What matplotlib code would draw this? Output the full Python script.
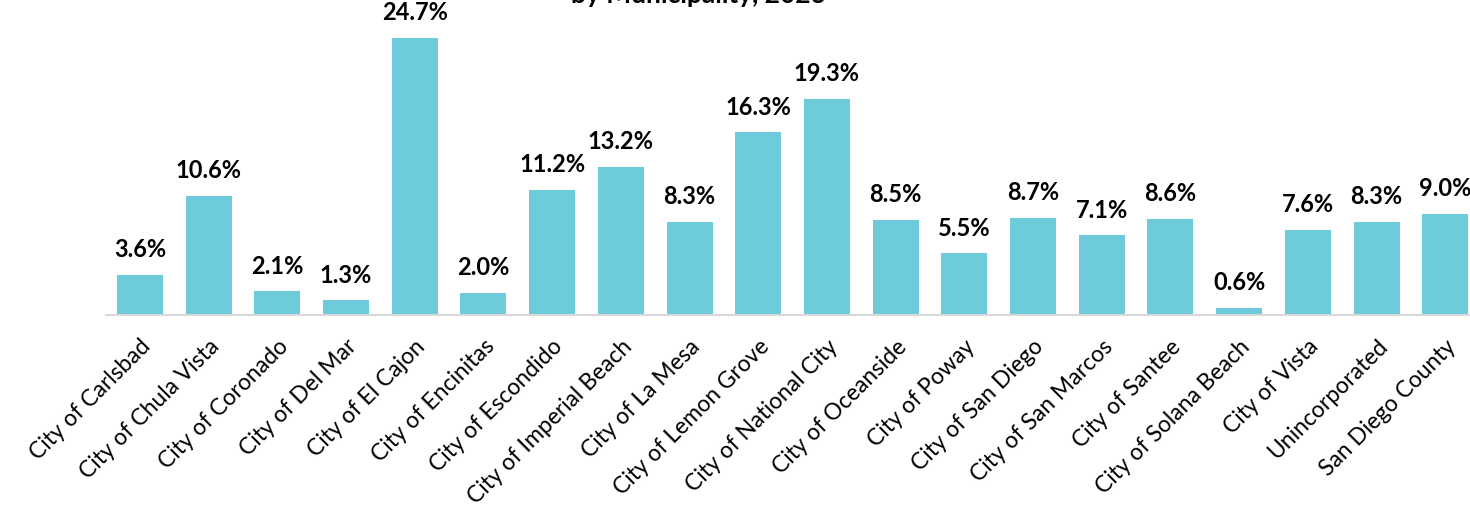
import matplotlib
matplotlib.use("Agg")
import matplotlib.pyplot as plt

municipalities = [
    "City of Carlsbad", "City of Chula Vista", "City of Coronado", "City of Del Mar",
    "City of El Cajon", "City of Encinitas", "City of Escondido", "City of Imperial Beach",
    "City of La Mesa", "City of Lemon Grove", "City of National City", "City of Oceanside",
    "City of Poway", "City of San Diego", "City of San Marcos", "City of Santee",
    "City of Solana Beach", "City of Vista", "Unincorporated", "San Diego County",
]
rates = [3.6, 10.6, 2.1, 1.3, 24.7, 2.0, 11.2, 13.2, 8.3, 16.3,
         19.3, 8.5, 5.5, 8.7, 7.1, 8.6, 0.6, 7.6, 8.3, 9.0]

plt.rcParams["font.family"] = ["Lato", "DejaVu Sans"]

fig = plt.figure(figsize=(14.7, 5.11), dpi=100)
ax = fig.add_axes([105.6 / 1470, 196 / 511, 1374 / 1470, 336 / 511])

x = range(len(rates))
bars = ax.bar(x, rates, width=0.67, color="#6ECBDC")
for b, v in zip(bars, rates):
    ax.annotate(f"{v:.1f}%", (b.get_x() + b.get_width() / 2, v),
                xytext=(0, 10), textcoords="offset points",
                ha="center", va="bottom", fontsize=17, fontweight="bold")

ax.set_xlim(-0.5, len(rates) - 0.5)
ax.set_ylim(0, 30)
ax.set_xticks(list(x))
ax.set_xticklabels(municipalities, rotation=45, ha="right", va="top",
                   rotation_mode="anchor", fontsize=16.5)
ax.tick_params(axis="x", length=0, pad=15)
ax.set_yticks([])
for s in ["top", "right", "left"]:
    ax.spines[s].set_visible(False)
ax.spines["bottom"].set_color("#D9D9D9")
ax.spines["bottom"].set_linewidth(1.5)

fig.text(698 / 1470, 1 - 3 / 511, "by Municipality, 2023", ha="center",
         va="baseline", fontsize=19, fontweight="bold")

fig.savefig("out.png", dpi=100)
